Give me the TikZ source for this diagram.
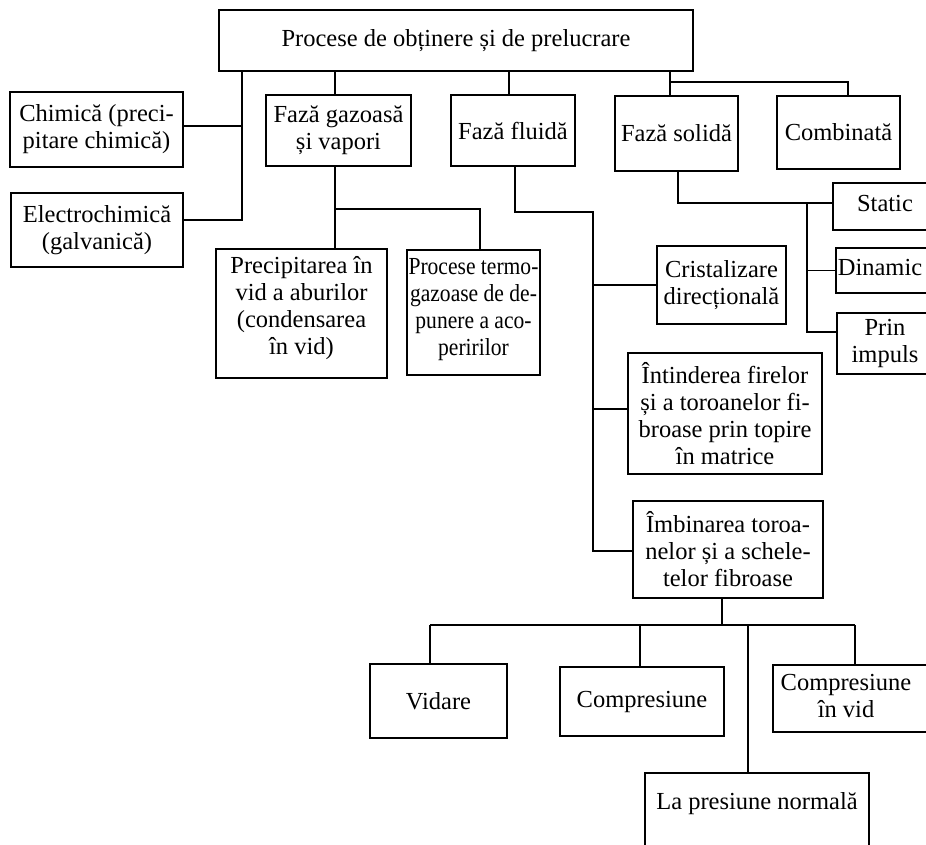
\documentclass[tikz,border=0pt]{standalone}
\usepackage{fontspec}
\setmainfont{Liberation Serif}
\newfontfamily\narrowserif[FakeStretch=0.88]{Liberation Serif}
\newcommand\boxfont{\fontsize{24.5}{27}\selectfont}
% shift the ink of a (multi-line) label without changing its box size
\newsavebox\nudgebox
\newcommand\nudge[3]{\sbox\nudgebox{\begin{tabular}{@{}c@{}}#3\end{tabular}}%
  \raisebox{#2}[\ht\nudgebox][\dp\nudgebox]{\hspace*{#1}\usebox\nudgebox\hspace*{-#1}}}
\tikzset{
  bx/.style={draw, line width=1.7pt, rectangle, inner sep=0pt, align=center, font=\boxfont},
  ln/.style={line width=1.6pt},
}
\begin{document}
\begin{tikzpicture}[x=1pt, y=-1pt]
\useasboundingbox (0,0) rectangle (926,845);
\clip (0,0) rectangle (926,845);

% top level
\node[bx, minimum width=474, minimum height=61] (top) at (456,40.5) {Procese de obținere și de prelucrare};

% first level
\node[bx, minimum width=173, minimum height=75] (chim) at (96.5,129.5) {Chimică (preci-\\pitare chimică)};
\node[bx, minimum width=172, minimum height=74] (elec) at (97,230) {Electrochimică\\(galvanică)};
\node[bx, minimum width=145, minimum height=71] (gaz) at (338.5,130.5) {Fază gazoasă\\și vapori};
\node[bx, minimum width=124, minimum height=71] (fluid) at (513,130.5) {Fază fluidă};
\node[bx, minimum width=123, minimum height=75] (solid) at (676.5,133.5) {Fază solidă};
\node[bx, minimum width=123, minimum height=73] (comb) at (838.5,132.5) {Combinată};

% gas phase
\node[bx, minimum width=171, minimum height=129] (prec) at (301.5,313.5) {\nudge{0pt}{5pt}{Precipitarea în\\vid a aburilor\\(condensarea\\în vid)}};
\node[bx, minimum width=133, minimum height=125, font=\boxfont\narrowserif] (term) at (473.5,312.5) {\nudge{0pt}{3pt}{Procese termo-\\gazoase de de-\\punere a aco-\\peririlor}};

% fluid phase
\node[bx, minimum width=129, minimum height=78] (crist) at (721.5,285) {Cristalizare\\direcțională};
\node[bx, minimum width=194, minimum height=121] (intind) at (725,413.5) {Întinderea firelor\\și a toroanelor fi-\\broase prin topire\\în matrice};
\node[bx, minimum width=190, minimum height=97] (imb) at (728,549.5) {Îmbinarea toroa-\\nelor și a schele-\\telor fibroase};

% solid phase
\node[bx, minimum width=127, minimum height=47] (stat) at (896.5,206.5) {\nudge{-11.5pt}{0pt}{Static}};
\node[bx, minimum width=124, minimum height=45] (din) at (898,270.5) {\nudge{-18pt}{0pt}{Dinamic}};
\node[bx, minimum width=123, minimum height=61] (prin) at (898.5,343.5) {\nudge{-13.5pt}{0pt}{Prin\\impuls}};

% joining of tows
\node[bx, minimum width=137, minimum height=74] (vid) at (438.5,701) {Vidare};
\node[bx, minimum width=164, minimum height=69] (comp) at (642,701.5) {Compresiune};
\node[bx, minimum width=187, minimum height=67] (compv) at (866.5,698.5) {\nudge{-20.5pt}{0pt}{Compresiune\\în vid}};
\node[bx, minimum width=224, minimum height=87] (norm) at (757,816.5) {\nudge{0pt}{12.5pt}{La presiune normală}};

% junction points
\coordinate (xL) at (242,0);
\coordinate (jC) at (242,126);
\coordinate (jE) at (242,220);
\coordinate (xG) at (335,0);
\coordinate (jG) at (335,209);
\coordinate (jT) at (480,209);
\coordinate (xF) at (509,0);
\coordinate (jF1) at (515,212);
\coordinate (jF2) at (593,212);
\coordinate (jF3) at (593,409);
\coordinate (jF4) at (593,551);
\coordinate (jS1) at (670,82);
\coordinate (jS2) at (848,82);
\coordinate (jD1) at (678,203);
\coordinate (jD2) at (807,203);
\coordinate (jD3) at (807,332);
\coordinate (jB0) at (722,625);
\coordinate (jB1) at (430,625);
\coordinate (jB2) at (640,625);
\coordinate (jB3) at (748,625);
\coordinate (jB4) at (855,625);

% connectors
\draw[ln] (top.south -| xL) -- (jE) -- (jE -| elec.east);
\draw[ln] (jC -| chim.east) -- (jC);
\draw[ln] (top.south -| xG) -- (gaz.north -| xG);
\draw[ln] (gaz.south -| xG) -- (prec.north -| xG);
\draw[ln] (jG) -- (jT) -- (term.north -| jT);
\draw[ln] (top.south -| xF) -- (fluid.north -| xF);
\draw[ln] (fluid.south -| jF1) -- (jF1) -- (jF2) -- (jF4) -- (jF4 -| imb.west);
\draw[ln] (crist.west -| jF2) -- (crist.west);
\draw[ln] (jF3) -- (jF3 -| intind.west);
\draw[ln] (top.south -| jS1) -- (solid.north -| jS1);
\draw[ln] (jS1) -- (jS2) -- (comb.north -| jS2);
\draw[ln] (solid.south -| jD1) -- (jD1) -- (jD1 -| stat.west);
\draw[ln] (jD2) -- (jD3) -- (jD3 -| prin.west);
\draw[ln] (din.west -| jD2) -- (din.west);
\draw[ln] (imb.south -| jB0) -- (jB0);
\draw[ln] (jB1) -- (jB4);
\draw[ln] (jB1) -- (vid.north -| jB1);
\draw[ln] (jB2) -- (comp.north -| jB2);
\draw[ln] (jB3) -- (norm.north -| jB3);
\draw[ln] (jB4) -- (compv.north -| jB4);
\end{tikzpicture}
\end{document}
